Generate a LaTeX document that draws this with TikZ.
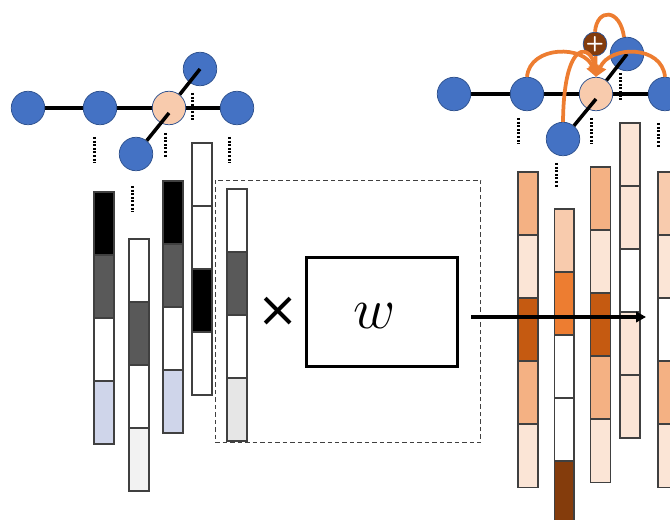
\RequirePackage{fix-cm}
\documentclass[tikz,border=0pt]{standalone}
\usepackage{fontspec}
\newfontfamily\crossfont{DejaVu Sans}
\usetikzlibrary{calc,arrows.meta,backgrounds}

\definecolor{nodeblue}{HTML}{4472C4}
\definecolor{nodeedge}{HTML}{2F528F}
\definecolor{peach}{HTML}{F8CBAD}
\definecolor{lorange}{HTML}{F4B183}
\definecolor{vlorange}{HTML}{FBE5D6}
\definecolor{dorange}{HTML}{C55A11}
\definecolor{morange}{HTML}{ED7D31}
\definecolor{rust}{HTML}{843C0C}
\definecolor{dgray}{HTML}{595959}
\definecolor{lblue}{HTML}{CFD5EA}
\definecolor{lgrayA}{HTML}{F2F2F2}
\definecolor{lgrayB}{HTML}{E6E6E6}
\definecolor{segline}{HTML}{404040}

\tikzset{
  vertex/.style={circle, fill=nodeblue, draw=nodeedge, line width=0.015cm,
                 minimum size=0.67cm, inner sep=0pt},
  centre/.style={vertex, fill=peach},
  edge/.style={line width=0.07cm, black},
  dotline/.style={line width=0.06cm, dash pattern=on 0.042cm off 0.03cm},
  seg/.style={draw=segline, line width=0.035cm, minimum width=0.4cm,
              inner sep=0pt, anchor=north west},
  orline/.style={morange, line width=0.075cm},
  orarc/.style={orline, -{Triangle[length=0.22cm,width=0.24cm]}},
  plusdot/.style={circle, fill=rust, draw=nodeedge, line width=0.015cm,
                  minimum size=0.42cm, inner sep=0pt, text=white,
                  font=\sffamily\bfseries\large},
  flow/.style={line width=0.065cm, black, -{Triangle[length=0.2cm,width=0.21cm]}},
  crosssym/.style={font=\crossfont\fontsize{28}{32}\selectfont},
  weightsym/.style={font=\fontsize{33}{38}\selectfont},
}

% one vertical feature vector made of stacked cells
\newcommand\stackbar[5]{% name, left x, top y, cell height, cell colours
  \foreach \cc [count=\ii] in {#5}{
    \node[seg, fill=\cc, minimum height=#4*0.02cm] (#1-\ii) at (#2,{#3+(\ii-1)*#4}) {};
  }
}

\begin{document}
\begin{tikzpicture}[x=0.02cm, y=-0.02cm]
\clip (0,0) rectangle (670,520);

% ---------- input feature vectors ----------
\stackbar{la}{93}{191}{63.1}{black,dgray,white,lblue}
\stackbar{lb}{128}{238}{63.1}{white,dgray,white,lgrayA}
\stackbar{lc}{162}{180}{63.1}{black,dgray,white,lblue}
\stackbar{ld}{191}{142}{63.1}{white,white,black,white}
\stackbar{le}{226}{188}{63.1}{white,dgray,white,lgrayB}

% ---------- transformation block ----------
\node[draw=black!75, line width=0.02cm, dash pattern=on 0.09cm off 0.06cm,
      minimum width=5.32cm, minimum height=5.26cm, inner sep=0pt]
      (grp) at (348,311.5) {};
\node[crosssym] (cross) at (278,311.5) {×};
\node[draw, line width=0.055cm, minimum width=3.02cm, minimum height=2.18cm,
      inner sep=0pt] (wbox) at (381.7,311.7) {};
\node[weightsym] (wlabel) at (375,316) {$w$};

% ---------- output feature vectors ----------
\stackbar{ra}{517}{171}{63.1}{lorange,vlorange,dorange,lorange,vlorange}
\stackbar{rb}{553.5}{208}{63.1}{peach,morange,white,white,rust}
\stackbar{rc}{589.5}{166}{63.1}{lorange,vlorange,dorange,lorange,vlorange}
\stackbar{rd}{619}{122}{63.1}{vlorange,vlorange,white,vlorange,vlorange}
\stackbar{re}{657}{171}{63.1}{peach,vlorange,white,lorange,vlorange}

\coordinate (src) at (471,317);
\coordinate (dst) at (646,317);
\draw[flow] (src) -- (dst);

% ---------- left graph ----------
\node[vertex] (a1) at (28,108) {};
\node[vertex] (a2) at (100,108) {};
\node[vertex] (at) at (200,69) {};
\node[centre] (ac) at (169,108) {};
\node[vertex] (a4) at (237,108) {};
\node[vertex] (ab) at (136,154) {};
\begin{scope}[on background layer]
  \draw[edge] (a1.center) -- (a4.center);
\end{scope}
\draw[edge] (ac) -- (at.center);
\draw[edge] (ab) -- ($(ac.center)+(0,5)$);

\draw[dotline] ($(a2)+(-6,29)$) -- ++(0,26);
\draw[dotline] ($(ac)+(-4,25)$) -- ++(0,25);
\draw[dotline] ($(a4)+(-8,29)$) -- ++(0,26);
\draw[dotline] ($(at)+(-8,24)$) -- ++(0,27);
\draw[dotline] ($(ab)+(-4,32)$) -- ++(0,26);

% ---------- right graph (aggregation) ----------
\node[vertex] (b1) at (454,94) {};
\node[vertex] (b2) at (527,94) {};
\node[vertex] (bt) at (627,54) {};
\node[centre] (bc) at (596,94) {};
\node[vertex] (b4) at (665,94) {};
\node[vertex] (bb) at (563,139) {};
\begin{scope}[on background layer]
  \draw[edge] (b1.center) -- (b4.center);
\end{scope}
\draw[edge] (bc) -- (bt.center);
\draw[edge] (bb) -- ($(bc.center)+(0,5)$);

\draw[dotline] ($(b2)+(-9,24)$) -- ++(0,26);
\draw[dotline] ($(bc)+(-5,24)$) -- ++(0,26);
\draw[dotline] ($(b4)+(-7,29)$) -- ++(0,25);
\draw[dotline] ($(bt)+(-7,19)$) -- ++(0,27);
\draw[dotline] ($(bb)+(-7,24)$) -- ++(0,25);

\node[plusdot] (pl) at (595,44) {+};

\draw[orarc] (b2.north) .. controls (530,45) and (585,45) .. (bc.north);
\draw[orarc] (bb.north) .. controls (564,35) and (592,45) .. (bc.north);
\draw[orarc] (b4.north) .. controls (662,45) and (610,45) .. (bc.north);
\draw[orline] (bt.100) .. controls (620,8) and (597,8) .. (pl.north);
\draw[orarc] (pl) -- (bc.north);
\end{tikzpicture}
\end{document}
